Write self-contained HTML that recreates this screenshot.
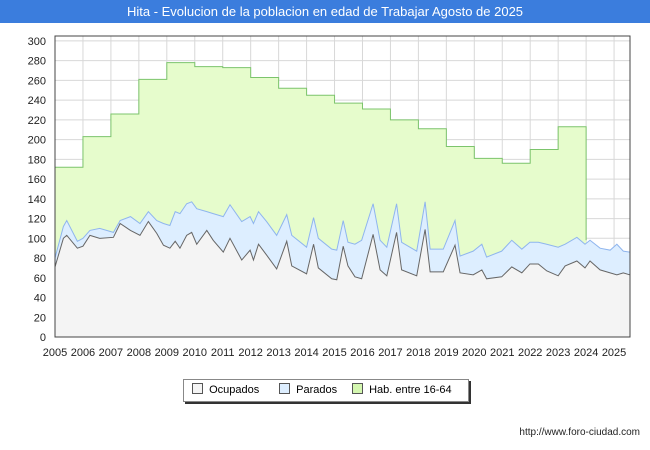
<!DOCTYPE html>
<html><head><meta charset="utf-8"><style>
body{margin:0;background:#fff;font-family:"Liberation Sans",sans-serif}
#t{position:absolute;left:0;top:0;width:650px;height:23px;background:#3b7ddd;color:#fff;font-size:13px;text-align:center;line-height:23px}
</style></head><body>
<div id="t">Hita - Evolucion de la poblacion en edad de Trabajar Agosto de 2025</div>
<svg id="c" width="650" height="450" style="position:absolute;left:0;top:0"></svg>
<script>
const yearTicks=[2005,2006,2007,2008,2009,2010,2011,2012,2013,2014,2015,2016,2017,2018,2019,2020,2021,2022,2023,2024,2025];
const yTicks=[0,20,40,60,80,100,120,140,160,180,200,220,240,260,280,300];
const habYears=[2005,2006,2007,2008,2009,2010,2011,2012,2013,2014,2015,2016,2017,2018,2019,2020,2021,2022,2023];
const habValues=[172,203,226,261,278,274,273,263,252,245,237,231,220,211,193,181,176,190,213];
const times=[2005.0,2005.3,2005.42,2005.8,2006.0,2006.25,2006.6,2007.09,2007.33,2007.7,2008.04,2008.34,2008.64,2008.88,2009.11,2009.3,2009.47,2009.71,2009.89,2010.07,2010.43,2010.66,2011.02,2011.26,2011.68,2011.98,2012.1,2012.28,2012.57,2012.93,2013.29,2013.47,2014.0,2014.25,2014.42,2014.9,2015.08,2015.31,2015.48,2015.73,2015.97,2016.38,2016.63,2016.87,2017.22,2017.4,2017.94,2018.24,2018.42,2018.89,2019.31,2019.49,2019.96,2020.27,2020.44,2020.98,2021.34,2021.7,2021.99,2022.29,2022.59,2023.0,2023.25,2023.67,2023.96,2024.14,2024.5,2024.86,2025.1,2025.33,2025.56];
const ocupados=[71,100,103,90,92,103,100,101,115,108,103,117,105,93,90,97,90,103,106,94,108,98,86,100,78,88,78,94,83,69,97,72,64,94,70,59,58,92,72,61,59,104,68,62,106,68,62,109,66,66,93,65,63,68,59,61,71,65,74,74,67,62,72,77,70,77,68,65,63,65,63];
const parados=[9,12,15,7,8,5,10,5,3,14,12,10,13,22,23,30,35,32,31,36,19,27,36,34,39,34,37,33,34,34,27,31,27,27,30,30,30,26,24,33,39,31,30,29,29,28,25,28,23,23,25,17,24,26,22,26,27,24,22,22,27,29,22,24,24,21,22,23,31,22,23];
const L=55,R=630,T=36,B=337,X0=2005,X1=2025.57,YMAX=305;
const X=v=>L+(v-X0)/(X1-X0)*(R-L);
const Y=v=>B-v/YMAX*(B-T);
const svg=document.getElementById('c');
const NS='http://www.w3.org/2000/svg';
function mk(tag,at,parent){const e=document.createElementNS(NS,tag);for(const k in at)e.setAttribute(k,at[k]);(parent||svg).appendChild(e);return e;}
let e=mk('rect',{x:L,y:T,width:R-L,height:B-T,fill:'#fff'});


// grid
yTicks.forEach(v=>{let g=mk('line',{x1:L,x2:R,y1:Y(v),y2:Y(v),stroke:'#d8d8d8','stroke-width':1});


let t=mk('text',{x:46,y:Y(v)+4,'text-anchor':'end','font-size':11,fill:'#222'});t.textContent=v;

});
yearTicks.forEach(v=>{let g=mk('line',{x1:X(v),x2:X(v),y1:T,y2:B,stroke:'#d8d8d8','stroke-width':1});


let t=mk('text',{x:X(v),y:356,'text-anchor':'middle','font-size':11,fill:'#222'});t.textContent=v;

});
// hab
let hp='M'+X(habYears[0])+','+Y(0);let hl='';
habYears.forEach((yr,i)=>{const x1=X(yr),x2=X(yr+1),y=Y(habValues[i]);hp+=' L'+x1+','+y+' L'+x2+','+y;hl+=(i?' L':'M')+x1+','+y+' L'+x2+','+y;});
hp+=' L'+X(habYears[habYears.length-1]+1)+','+Y(0)+' Z';
hl+=' L'+X(habYears[habYears.length-1]+1)+','+Y(ocupados[65]+parados[65]);
e=mk('path',{d:hp,fill:'#e6fccc',stroke:'none'});


e=mk('path',{d:hl,fill:'none',stroke:'#7cc46c','stroke-width':1});


// parados (stacked total)
let up=times.map((t,i)=>X(t)+','+Y(ocupados[i]+parados[i]));
e=mk('path',{d:'M'+X(times[0])+','+Y(0)+' L'+up.join(' L')+' L'+X(times[times.length-1])+','+Y(0)+' Z',fill:'#ddeeff',stroke:'none'});


e=mk('path',{d:'M'+up.join(' L'),fill:'none',stroke:'#8fb5ee','stroke-width':1});


let op=times.map((t,i)=>X(t)+','+Y(ocupados[i]));
e=mk('path',{d:'M'+X(times[0])+','+Y(0)+' L'+op.join(' L')+' L'+X(times[times.length-1])+','+Y(0)+' Z',fill:'#f4f4f4',stroke:'none'});


e=mk('path',{d:'M'+op.join(' L'),fill:'none',stroke:'#666','stroke-width':1});


e=mk('rect',{x:L,y:T,width:R-L,height:B-T,fill:'none',stroke:'#444','stroke-width':1});


</script>
<div style="position:absolute;left:183px;top:379px;width:284px;height:21px;border:1px solid #888;box-shadow:2px 2px 0 #333;background:#fff;font-size:11px;line-height:21px">
<span style="position:absolute;left:8px"><span style="display:inline-block;width:9px;height:9px;background:#f4f4f4;border:1px solid #555;vertical-align:-1px"></span>&nbsp; Ocupados</span>
<span style="position:absolute;left:95px"><span style="display:inline-block;width:9px;height:9px;background:#ddeeff;border:1px solid #555;vertical-align:-1px"></span>&nbsp; Parados</span>
<span style="position:absolute;left:168px"><span style="display:inline-block;width:9px;height:9px;background:#d4f7b0;border:1px solid #555;vertical-align:-1px"></span>&nbsp; Hab. entre 16-64</span>
</div>
<div style="position:absolute;right:10px;top:427px;font-size:10px;color:#222">http://www.foro-ciudad.com</div>
</body></html>
